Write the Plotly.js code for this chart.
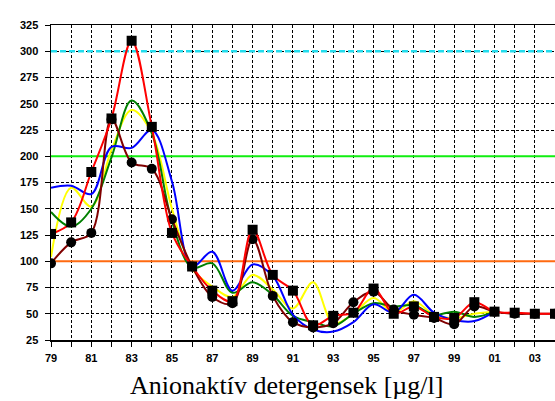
<!DOCTYPE html>
<html>
<head>
<meta charset="utf-8">
<script src="https://cdn.plot.ly/plotly-3.0.1.min.js"></script>
<style>html,body{margin:0;padding:0;background:#fff;}#chart{width:555px;height:401px;}</style>
</head>
<body>
<div id="chart"></div>
<script>
const years = [1979,1980,1981,1982,1983,1984,1985,1986,1987,1988,1989,1990,1991,1992,1993,1994,1995,1996,1997,1998,1999,2000,2001,2002,2003,2004];
const yearsShort = [1979,1980,1981,1982,1983,1984,1985,1986,1987,1988,1989,1990,1991,1992,1993,1994,1995,1996,1997,1998,1999,2000,2001];
const redSquares = [126,137,185,236,310,228,127,95,72,62,130,87,72,39,48,51,74,50,57,47,46,61,52,51,50,50];
const maroonCircles = [98,118,127,235,194,188,140,95,66,60,121,67,42,37,41,61,71,54,49,46,40,57,52,50,50,50];
const blueSeries = [170,172,164,209,208,225,176,95,109,72,97,86,49,35,33,42,59,51,68,51,44,43,52];
const greenSeries = [147,133,150,199,253,222,138,94,98,70,80,68,48,42,38,50,60,57,58,49,52,47,52];
const yellowSeries = [104,170,152,206,244,222,150,93,76,66,87,73,55,80,41,50,65,51,62,49,46,50,52];
const limitCyan = 300, limitGreen = 200, limitOrange = 100;
const yTicks = [25,50,75,100,125,150,175,200,225,250,275,300,325];
const xTickText = years.map((y,i) => (i % 2 === 0 && y < 2004) ? String(y).slice(2) : '');
const xEnds = [years[0], years[years.length-1]];

const traces = [
  {x: xEnds, y: [limitCyan, limitCyan], mode: 'lines', line: {color: '#22DDEE', width: 2.5, dash: '6px,3px'}, hoverinfo: 'skip'},
  {x: xEnds, y: [limitGreen, limitGreen], mode: 'lines', line: {color: '#11EE11', width: 2.2}, hoverinfo: 'skip'},
  {x: xEnds, y: [limitOrange, limitOrange], mode: 'lines', line: {color: '#FF6A10', width: 2.2}, hoverinfo: 'skip'},
  {x: yearsShort, y: yellowSeries, mode: 'lines', line: {color: '#FFFF00', width: 2, shape: 'spline', smoothing: 1}},
  {x: yearsShort, y: greenSeries, mode: 'lines', line: {color: '#008000', width: 2, shape: 'spline', smoothing: 1}},
  {x: yearsShort, y: blueSeries, mode: 'lines', line: {color: '#0000FF', width: 2, shape: 'spline', smoothing: 1}},
  {x: years, y: maroonCircles, mode: 'lines+markers', line: {color: '#800000', width: 2, shape: 'spline', smoothing: 1}, marker: {symbol: 'circle', size: 10, color: '#000'}},
  {x: years, y: redSquares, mode: 'lines+markers', line: {color: '#FF0000', width: 2, shape: 'spline', smoothing: 1}, marker: {symbol: 'square', size: 10, color: '#000'}}
];

const layout = {
  width: 555, height: 401,
  margin: {l: 51, r: 0, t: 25, b: 61, pad: 0},
  paper_bgcolor: '#fff', plot_bgcolor: '#fff',
  showlegend: false,
  xaxis: {
    range: [1979, 2004], tickmode: 'array', tickvals: years, ticktext: xTickText,
    showgrid: true, gridcolor: '#000', gridwidth: 1, griddash: '3px,2px',
    showline: true, linecolor: '#000', linewidth: 1.5, mirror: true,
    ticks: 'outside', ticklen: 5, tickcolor: '#000', ticklabelstandoff: 2,
    tickfont: {family: 'Liberation Sans, Arial', size: 11, color: '#000', weight: 'bold'},
    zeroline: false
  },
  yaxis: {
    range: [25, 325], tickmode: 'array', tickvals: yTicks,
    showgrid: true, gridcolor: '#000', gridwidth: 1, griddash: '3px,2px',
    showline: true, linecolor: '#000', linewidth: 1.5, mirror: true,
    ticks: 'outside', ticklen: 5, tickcolor: '#000', ticklabelstandoff: 4,
    tickfont: {family: 'Liberation Sans, Arial', size: 11, color: '#000', weight: 'bold'},
    zeroline: false
  },
  annotations: [{
    text: 'Anionaktív detergensek [µg/l]', xref: 'paper', yref: 'paper',
    x: 0.468, y: -0.143, xanchor: 'center', yanchor: 'middle', showarrow: false,
    font: {family: 'Liberation Serif, Times New Roman', size: 26, color: '#000'}
  }]
};

Plotly.newPlot('chart', traces, layout, {displayModeBar: false, staticPlot: true});
</script>
</body>
</html>
